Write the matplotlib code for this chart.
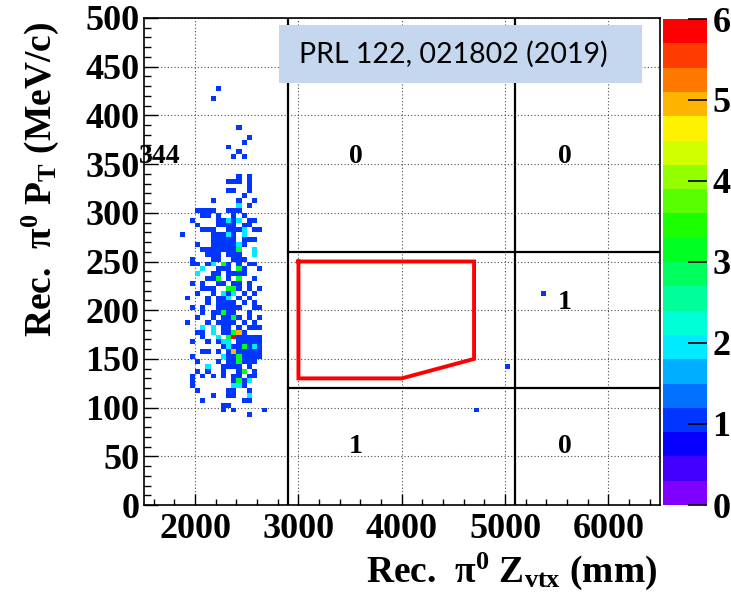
import colorsys
import numpy as np
import matplotlib
matplotlib.use("Agg")
import matplotlib.pyplot as plt
from matplotlib.colors import ListedColormap, BoundaryNorm
from matplotlib.cm import ScalarMappable
from matplotlib.patches import Rectangle
from matplotlib.ticker import MultipleLocator

plt.rcParams['font.family'] = ['Liberation Serif', 'DejaVu Serif']
plt.rcParams['font.weight'] = 'bold'
plt.rcParams['mathtext.fontset'] = 'custom'
plt.rcParams['mathtext.rm'] = 'Liberation Serif:bold'
plt.rcParams['mathtext.it'] = 'Liberation Serif:italic:bold'
plt.rcParams['mathtext.bf'] = 'Liberation Serif:bold'

# filled bins: Z vertex (mm), PT (MeV/c), entries
zvtx = [
    2225, 2175,
    2425, 2525, 2475, 2325, 2425, 2375, 2475,
    2425, 2525, 2325, 2375, 2425, 2525, 2525, 2325, 2375, 2525, 2475,
    2175, 2425, 2575, 2425, 2525, 2125, 2175, 2325, 2375, 2075, 2125, 2475,
    2225, 2325, 2425, 2525, 2025, 2225, 2275, 2375, 2475, 2525,
    2325, 2375, 2425, 2475, 2575, 1875, 2175, 2225, 2325, 2375,
    2175, 2275, 2325, 2375, 2475, 2525, 2175, 2225, 2275, 2375, 2425,
    2125, 2225, 2275, 2325, 2375, 2425, 2575, 2125, 2175, 2225, 2325, 2425, 2575,
    2175, 2375, 2475,
    1975, 2025, 2125, 2275, 2425, 2525, 2575, 2075, 2225, 2325, 2425,
    2175, 2375, 2475, 2125, 2225, 2425, 2075, 2275, 2375, 2525,
    2125, 2325, 2375, 2425, 2525, 2175, 2275, 2475, 2575,
    1925, 2125, 2225, 2325, 2425, 2525, 2125, 2275, 2375, 2475,
    2075, 2225, 2325, 2425, 2575, 2175, 2275, 2375, 2525,
    2175, 2325, 2375, 2525, 2625, 1925, 2125, 2225, 2325, 2475,
    2175, 2275, 2425, 2525, 2075, 2175, 2325, 2375, 2425,
    2075, 2225, 2325, 2375, 2475, 2525, 2625,
    2125, 2225, 2275, 2425, 2475, 2575, 2625,
    2325, 2375, 2475, 2525, 2575, 2625,
    2125, 2225, 2375, 2425, 2525, 2575, 2625,
    2275, 2375, 2425, 2475, 2575, 2625,
    2225, 2325, 2425, 2475, 2525,
    2125, 2275, 2375, 2425, 2525,
    2025, 2125, 2275, 2475, 2575,
    1975, 2075, 2175, 2275, 2425, 2525,
    1975, 2425, 2475, 2525, 1975, 2375, 2475,
    2325, 2375, 2525, 2175, 2325, 2375, 2525,
    2075, 2475, 2525, 2275, 2325, 2275, 2375, 2675, 2525,
    2075, 2425, 2225, 2375, 2275, 2375, 2325, 2125, 2175, 2275, 2475, 2225,
    2325, 2475, 2175, 2375, 2225, 2425, 2175, 2325, 2275, 2475, 2225, 2325, 2425,
    2175, 2325, 2225, 2425, 2175, 2325, 2375, 2275, 2225, 2325, 2275, 2375,
    2225, 2325, 2275, 2425, 2275, 2375, 2325, 2575, 2275, 2475, 2425, 2575,
    2325, 2525, 2275, 2425, 2325, 2475, 2325, 2525, 2375, 2325, 2425, 2375,
    2375, 2425,
    1975, 1975, 1975, 1975, 1975, 1975,
    2025, 2025, 2025, 2025, 2025, 2025, 2025, 2025,
    2625, 2625, 2625, 2625, 2625,
    2575, 2575, 2575, 2575, 2575, 2575, 2575,
    2075, 2075, 2075, 2075, 2075, 2075,
    5375, 5025, 4725,
]
pt = [
    427.5, 417.5,
    387.5, 377.5, 372.5, 367.5, 362.5, 357.5, 357.5,
    337.5, 337.5, 332.5, 332.5, 332.5, 332.5, 327.5, 322.5, 322.5, 322.5, 317.5,
    312.5, 312.5, 312.5, 307.5, 307.5, 302.5, 302.5, 302.5, 302.5, 297.5, 297.5, 297.5,
    292.5, 292.5, 292.5, 292.5, 287.5, 287.5, 287.5, 287.5, 287.5, 287.5,
    282.5, 282.5, 282.5, 282.5, 282.5, 277.5, 277.5, 277.5, 277.5, 277.5,
    272.5, 272.5, 272.5, 272.5, 272.5, 272.5, 267.5, 267.5, 267.5, 267.5, 267.5,
    262.5, 262.5, 262.5, 262.5, 262.5, 262.5, 262.5, 257.5, 257.5, 257.5, 257.5, 257.5, 257.5,
    252.5, 252.5, 252.5,
    247.5, 247.5, 247.5, 247.5, 247.5, 247.5, 247.5, 242.5, 242.5, 242.5, 242.5,
    237.5, 237.5, 237.5, 232.5, 232.5, 232.5, 227.5, 227.5, 227.5, 227.5,
    222.5, 222.5, 222.5, 222.5, 222.5, 217.5, 217.5, 217.5, 217.5,
    212.5, 212.5, 212.5, 212.5, 212.5, 212.5, 207.5, 207.5, 207.5, 207.5,
    202.5, 202.5, 202.5, 202.5, 202.5, 197.5, 197.5, 197.5, 197.5,
    192.5, 192.5, 192.5, 192.5, 192.5, 187.5, 187.5, 187.5, 187.5, 187.5,
    182.5, 182.5, 182.5, 182.5, 177.5, 177.5, 177.5, 177.5, 177.5,
    172.5, 172.5, 172.5, 172.5, 172.5, 172.5, 172.5,
    167.5, 167.5, 167.5, 167.5, 167.5, 167.5, 167.5,
    162.5, 162.5, 162.5, 162.5, 162.5, 162.5,
    157.5, 157.5, 157.5, 157.5, 157.5, 157.5, 157.5,
    152.5, 152.5, 152.5, 152.5, 152.5, 152.5,
    147.5, 147.5, 147.5, 147.5, 147.5,
    142.5, 142.5, 142.5, 142.5, 142.5,
    137.5, 137.5, 137.5, 137.5, 137.5,
    132.5, 132.5, 132.5, 132.5, 132.5, 132.5,
    127.5, 127.5, 127.5, 127.5, 122.5, 122.5, 122.5,
    117.5, 117.5, 117.5, 112.5, 112.5, 112.5, 112.5,
    107.5, 107.5, 107.5, 102.5, 102.5, 97.5, 97.5, 97.5, 92.5,
    302.5, 302.5, 297.5, 297.5, 292.5, 292.5, 287.5, 282.5, 282.5, 277.5, 277.5, 272.5,
    267.5, 267.5, 262.5, 257.5, 252.5, 252.5, 247.5, 247.5, 242.5, 242.5, 237.5, 237.5, 237.5,
    232.5, 232.5, 227.5, 227.5, 222.5, 217.5, 217.5, 212.5, 207.5, 207.5, 202.5, 202.5,
    197.5, 197.5, 192.5, 192.5, 187.5, 187.5, 182.5, 182.5, 177.5, 177.5, 172.5, 172.5,
    167.5, 167.5, 162.5, 162.5, 157.5, 157.5, 152.5, 152.5, 147.5, 142.5, 137.5, 132.5,
    127.5, 122.5,
    292.5, 252.5, 227.5, 202.5, 167.5, 152.5,
    302.5, 267.5, 237.5, 217.5, 192.5, 177.5, 147.5, 117.5,
    282.5, 242.5, 222.5, 202.5, 182.5,
    292.5, 272.5, 232.5, 207.5, 187.5, 147.5, 132.5,
    282.5, 262.5, 222.5, 197.5, 182.5, 157.5,
    217.5, 142.5, 97.5,
]
counts = [
    1, 1,
    1, 1, 1, 1, 1, 1, 1,
    1, 1, 1, 1, 1, 1, 1, 1, 1, 1, 1,
    1, 1, 1, 2, 1, 1, 1, 1, 1, 1, 1, 1,
    1, 2, 2, 1, 1, 1, 1, 1, 1, 1,
    1, 1, 1, 2, 1, 1, 1, 1, 2, 1,
    1, 1, 1, 1, 1, 1, 1, 1, 1, 1, 2,
    1, 1, 1, 1, 1, 3, 2, 1, 1, 1, 1, 1, 2,
    1, 1, 1,
    1, 1, 1, 3, 1, 1, 1, 2, 1, 1, 3,
    1, 1, 1, 1, 3, 3, 1, 1, 1, 1,
    1, 3, 3, 1, 1, 1, 2, 1, 1,
    1, 1, 1, 2, 1, 1, 1, 1, 1, 1,
    1, 1, 1, 1, 1, 1, 3, 1, 1,
    1, 1, 3, 1, 1, 1, 1, 1, 1, 1,
    2, 1, 1, 1, 1, 2, 1, 3, 5,
    1, 2, 3, 6, 1, 1, 1,
    1, 1, 2, 1, 1, 1, 1,
    2, 1, 3, 1, 2, 1,
    1, 1, 5, 1, 1, 1, 1,
    2, 1, 3, 1, 1, 1,
    1, 1, 3, 1, 1,
    2, 1, 1, 1, 1,
    1, 1, 1, 3, 1,
    1, 1, 1, 1, 1, 1,
    1, 3, 1, 2, 1, 2, 1,
    1, 1, 1, 1, 1, 1, 2,
    1, 1, 1, 1, 1, 1, 1, 1, 1,
    1, 1, 1, 1, 1, 1, 1, 1, 1, 1, 2, 1,
    1, 1, 1, 1, 1, 1, 2, 1, 1, 1, 1, 1, 1,
    1, 1, 1, 1, 1, 1, 2, 1, 1, 1, 1, 1,
    1, 1, 1, 1, 1, 1, 1, 1, 1, 1, 1, 1,
    2, 1, 1, 1, 1, 1, 1, 1, 1, 1, 1, 1,
    1, 2,
    1, 1, 1, 1, 1, 1,
    1, 1, 2, 1, 1, 1, 1, 1,
    1, 1, 1, 1, 1,
    1, 1, 1, 1, 1, 1, 1,
    1, 1, 1, 1, 2, 1,
    1, 1, 1,
]

# region boundaries and signal box
z_cuts = [2900, 5100]
pt_cuts = [120, 260]
box_z = [3000, 4700, 4700, 4000, 3000, 3000]
box_pt = [250, 250, 150, 130, 130, 250]
region_z = [1655, 3553, 5575, 5575, 3553, 5575]
region_pt = [358, 358, 358, 208, 60, 60]
region_txt = ['344', '0', '0', '1', '1', '0']

z_edges = np.arange(1500, 6501, 50)
pt_edges = np.arange(0, 501, 5)

# ROOT-like rainbow palette, 20 contours from 0 to 6
pal = [colorsys.hsv_to_rgb(h / 360.0, 1, 1) for h in np.linspace(270, 0, 20)]
cmap = ListedColormap(pal)
cmap.set_over(pal[-1])
norm = BoundaryNorm(np.linspace(0, 6, 21), 20)

fig = plt.figure(figsize=(7.31, 6.03), dpi=100)
ax = fig.add_axes([143.5 / 731, 1 - 505 / 603, (660 - 143.5) / 731, (505 - 18) / 603])

H, xe, ye = np.histogram2d(zvtx, pt, bins=[z_edges, pt_edges], weights=counts)
H = np.ma.masked_equal(H.T, 0)
ax.pcolormesh(xe, ye, H, cmap=cmap, norm=norm, zorder=2)

ax.set_xlim(1500, 6500)
ax.set_ylim(0, 500)
ax.xaxis.set_major_locator(MultipleLocator(1000))
ax.xaxis.set_minor_locator(MultipleLocator(200))
ax.yaxis.set_major_locator(MultipleLocator(50))
ax.yaxis.set_minor_locator(MultipleLocator(10))
ax.grid(True, which='major', ls=(0, (1, 2)), color='0.3', lw=0.8, zorder=1)
ax.set_axisbelow(True)
ax.tick_params(axis='x', which='major', direction='in', length=8, width=1, labelsize=26, pad=6)
ax.tick_params(axis='x', which='minor', direction='in', length=4, width=1)
ax.tick_params(axis='y', which='major', direction='in', length=10, width=1, labelsize=26, pad=3)
ax.tick_params(axis='y', which='minor', direction='in', length=5, width=1)
for s in ax.spines.values():
    s.set_linewidth(1.2)

for zc in z_cuts:
    ax.plot([zc, zc], [0, 500], color='k', lw=1.6, zorder=3)
for pc in pt_cuts:
    ax.plot([z_cuts[0], 6500], [pc, pc], color='k', lw=1.6, zorder=3)
ax.plot(box_z, box_pt, color='#ff0000', lw=2.8, solid_joinstyle='miter', zorder=4)

for zt, ptt, t in zip(region_z, region_pt, region_txt):
    ax.text(zt, ptt, t, fontsize=20, fontweight='bold', ha='center', va='center', zorder=5)

# palette axis
cax = fig.add_axes([663 / 731, 1 - 505 / 603, 44 / 731, (505 - 19) / 603])
cb = fig.colorbar(ScalarMappable(norm=norm, cmap=cmap), cax=cax, ticks=range(7))
cb.outline.set_visible(False)
cax.tick_params(direction='in', length=14, width=1.2, labelsize=26, pad=4)
cax.minorticks_off()

fig.text(657 / 731, 1 - 582 / 603, 'Rec.  π$^{0}$ Z$_{\\rm vtx}$ (mm)', fontsize=27,
         fontweight='bold', ha='right', va='baseline')
fig.text(40 / 731, 1 - 22 / 603, 'Rec.  π$^{0}$ P$_{\\rm T}$ (MeV/c)', fontsize=27,
         fontweight='bold', ha='center', va='top', rotation=90)

# reference box
fig.add_artist(Rectangle((279 / 731, 1 - 83 / 603), (642 - 279) / 731, 58 / 603,
                         transform=fig.transFigure, facecolor='#c5d7ef', edgecolor='none', zorder=10))
fig.text(453 / 731, 1 - 54 / 603, 'PRL 122, 021802 (2019)', fontsize=20.5, family='Lato',
         fontweight='normal', ha='center', va='center', zorder=11)

fig.savefig('out.png', dpi=100)
